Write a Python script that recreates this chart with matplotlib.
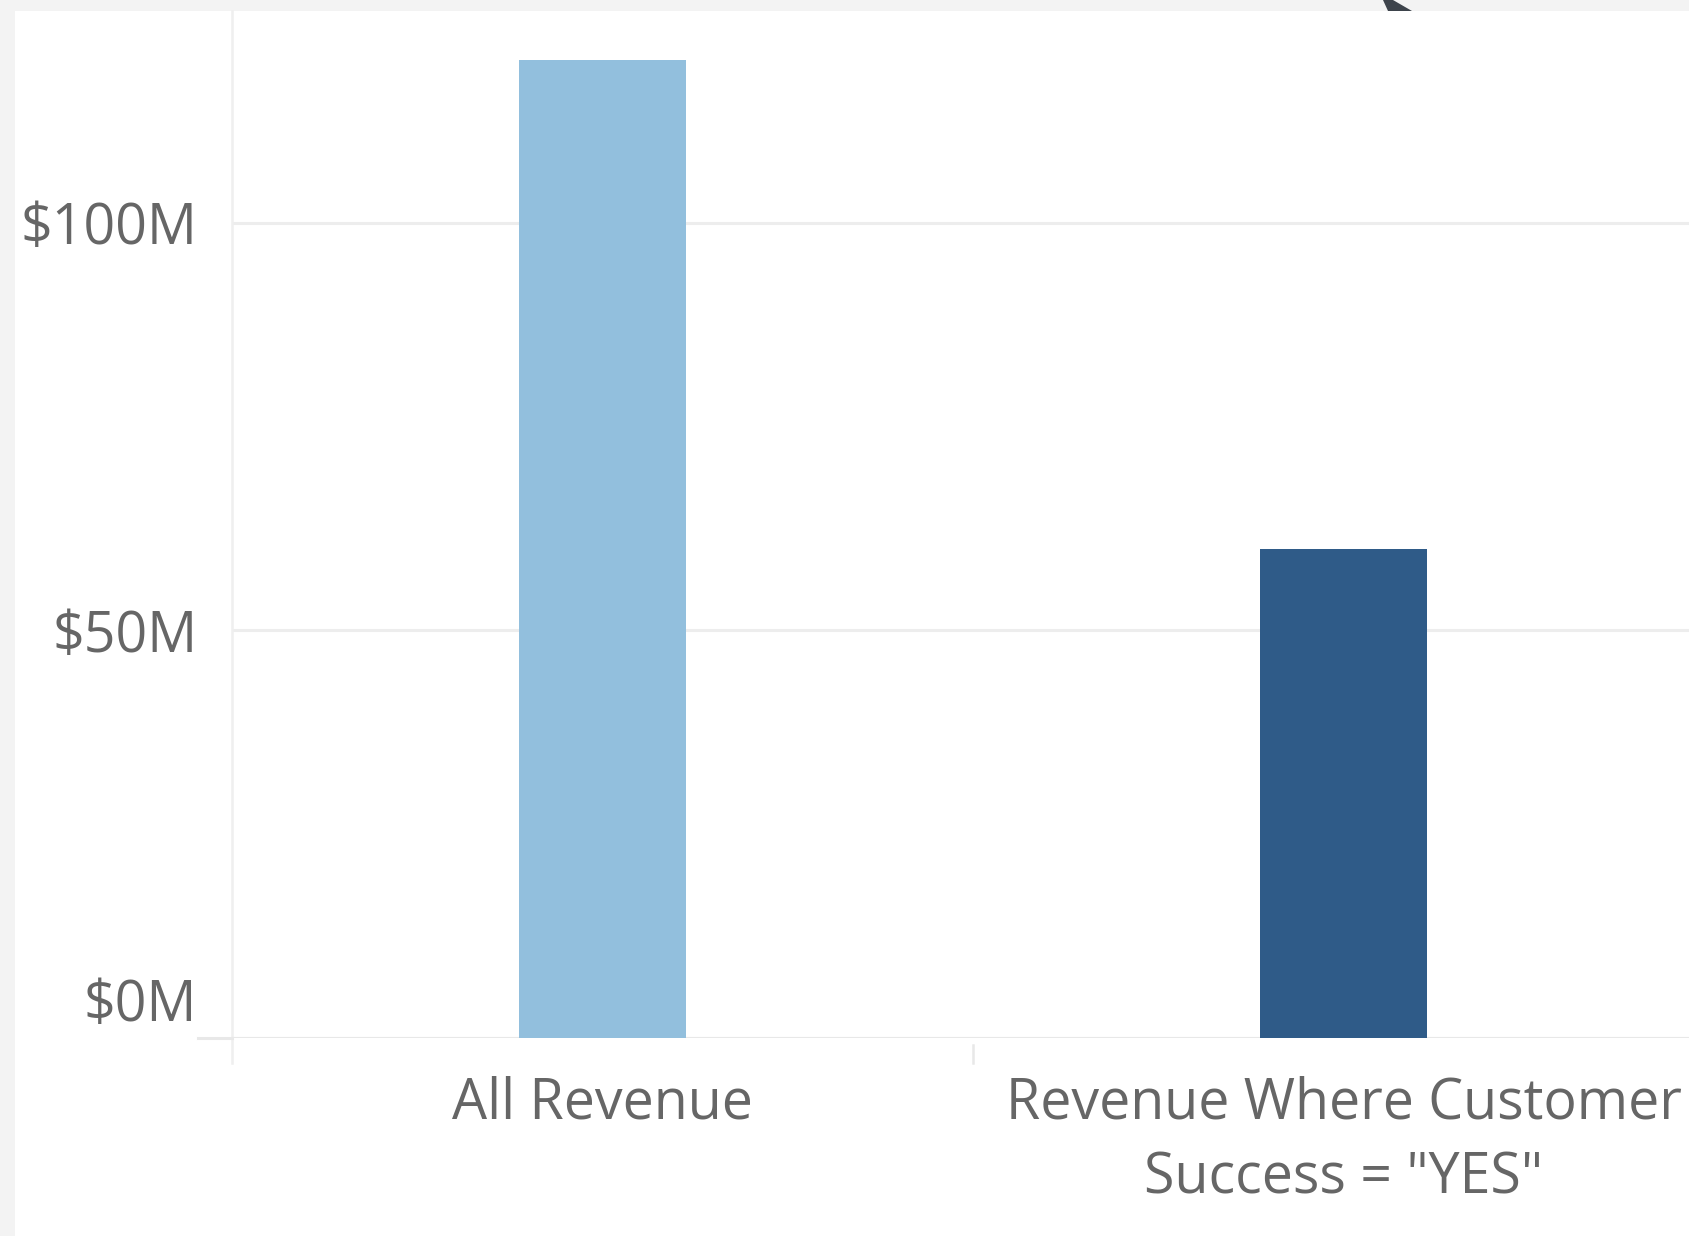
import matplotlib.pyplot as plt
import matplotlib.transforms as mtransforms
from matplotlib.patches import Rectangle, Polygon

categories = ['All Revenue', 'Revenue Where Customer\nSuccess = "YES"']
revenue = [120, 60]  # $M
bar_colors = ['#92bfdd', '#2f5b88']
yticks = [0, 50, 100]
ytick_labels = ['$0M', '$50M', '$100M']

plt.rcParams['font.family'] = ['Open Sans', 'DejaVu Sans']
text_color = '#666666'

W, H = 1689, 1236
fig = plt.figure(figsize=(W / 100, H / 100), dpi=100, facecolor='#f3f3f3')

# white panel inside the grey frame
fig.patches.append(Rectangle((15 / W, 0), 1 - 15 / W, 1 - 11 / H,
                             transform=fig.transFigure, facecolor='white',
                             edgecolor='none', zorder=-5))
# bit of a dark cursor poking in at the top
pts = [(1383, 0), (1393, 0), (1412, 11), (1388, 11)]
fig.patches.append(Polygon([(x / W, 1 - y / H) for x, y in pts], closed=True,
                           transform=fig.transFigure, facecolor='#3d434b',
                           edgecolor='none', zorder=5))

ax = fig.add_axes([232 / W, (H - 1038) / H, 1 - 232 / W, (1038 - 11) / H])
ax.set_facecolor('none')

x = list(range(len(categories)))
ax.bar(x, revenue, width=0.225, color=bar_colors, zorder=3)

ax.set_xlim(-0.5, 1.466)
ax.set_ylim(0, 126)

ax.set_yticks(yticks)
ax.set_yticklabels(ytick_labels)
ax.set_xticks(x)
ax.set_xticklabels(categories, linespacing=1.42)
ax.tick_params(axis='both', length=0, colors=text_color)
ax.tick_params(axis='y', labelsize=40, pad=25)
ax.tick_params(axis='x', labelsize=40, pad=27)

# Tableau nudges the zero label up above the baseline
lbl0 = ax.get_yticklabels()[0]
lbl0.set_transform(lbl0.get_transform() +
                   mtransforms.ScaledTranslation(0, 38 / 100, fig.dpi_scale_trans))

for s in ax.spines.values():
    s.set_visible(False)

ax.grid(axis='y', color='#ededed', linewidth=2.2, zorder=1)
ax.axhline(0, color='#e8e8e8', linewidth=2.2, zorder=2)

# axis line on the left, extending slightly below the baseline
ax.plot([-0.5, -0.5], [-25 / 8.15, 126], color='#efefef', linewidth=1.8,
        clip_on=False, zorder=2)
# baseline sticking out left of the axis
ax.plot([-0.5 - 34 / 741, -0.5], [0, 0], color='#e8e8e8', linewidth=2.2,
        clip_on=False, zorder=2)
# category separator tick
ax.plot([0.5, 0.5], [-7 / 8.15, -25 / 8.15], color='#e8e8e8', linewidth=1.8,
        clip_on=False, zorder=2)

fig.savefig('out.png', dpi=100, facecolor=fig.get_facecolor())
